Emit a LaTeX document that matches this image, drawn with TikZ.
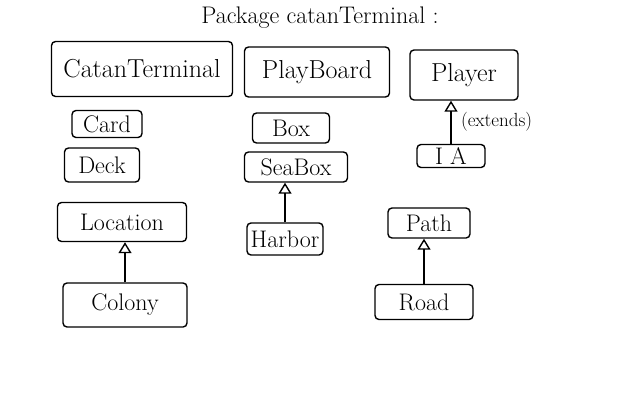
\documentclass[tikz,border=0pt]{standalone}
\usepackage{tikz}
\usetikzlibrary{arrows.meta, positioning}

\begin{document}
\begin{tikzpicture}[
    x=1pt, y=-1pt,
    every node/.style={font=\fontsize{24}{26}\selectfont},
    cls/.style={rectangle, draw, line width=1.4pt, rounded corners=4pt, inner sep=0pt, align=center},
    big/.style={cls, font=\fontsize{26}{28}\selectfont},
    inherit/.style={-{Triangle[open, length=11pt, width=13pt]}, line width=1.4pt}
]
\useasboundingbox (0,0) rectangle (640,400);
\node (title) at (320,18) {Package catanTerminal :};
% left column
\node (catan) [big, minimum width=181pt, minimum height=55pt] at (142,69) {CatanTerminal};
\node (card) [cls, minimum width=70pt, minimum height=27pt] at (107,124) {Card};
\node (deck) [cls, minimum width=75pt, minimum height=34pt] at (102,165) {Deck};
\node (location) [cls, minimum width=129pt, minimum height=39pt] at (122,222) {Location};
\node (colony) [cls, minimum width=124pt, minimum height=44pt] at (125,305) {Colony};
% middle column
\node (board) [big, minimum width=145pt, minimum height=50pt] at (317,72) {PlayBoard};
\node (box) [cls, minimum width=77pt, minimum height=30pt] at (291,128) {Box};
\node (seabox) [cls, minimum width=103pt, minimum height=30pt] at (296,167) {SeaBox};
\node (harbor) [cls, minimum width=76pt, minimum height=32pt] at (285,239) {Harbor};
% right column
\node (player) [big, minimum width=108pt, minimum height=50pt] at (464,75) {Player};
\node (ia) [cls, minimum width=68pt, minimum height=23pt] at (451,156) {I A};
\node (path) [cls, minimum width=82pt, minimum height=30pt] at (429,223) {Path};
\node (road) [cls, minimum width=98pt, minimum height=35pt] at (424,302) {Road};
\draw [inherit] (colony.north) -- (colony.north |- location.south);
\draw [inherit] (harbor.north) -- (harbor.north |- seabox.south);
\draw [inherit] (ia.north) -- (ia.north |- player.south)
    node [midway, right=6pt, font=\fontsize{19}{21}\selectfont] {(extends)};
\draw [inherit] (road.north) -- (road.north |- path.south);
\end{tikzpicture}
\end{document}
